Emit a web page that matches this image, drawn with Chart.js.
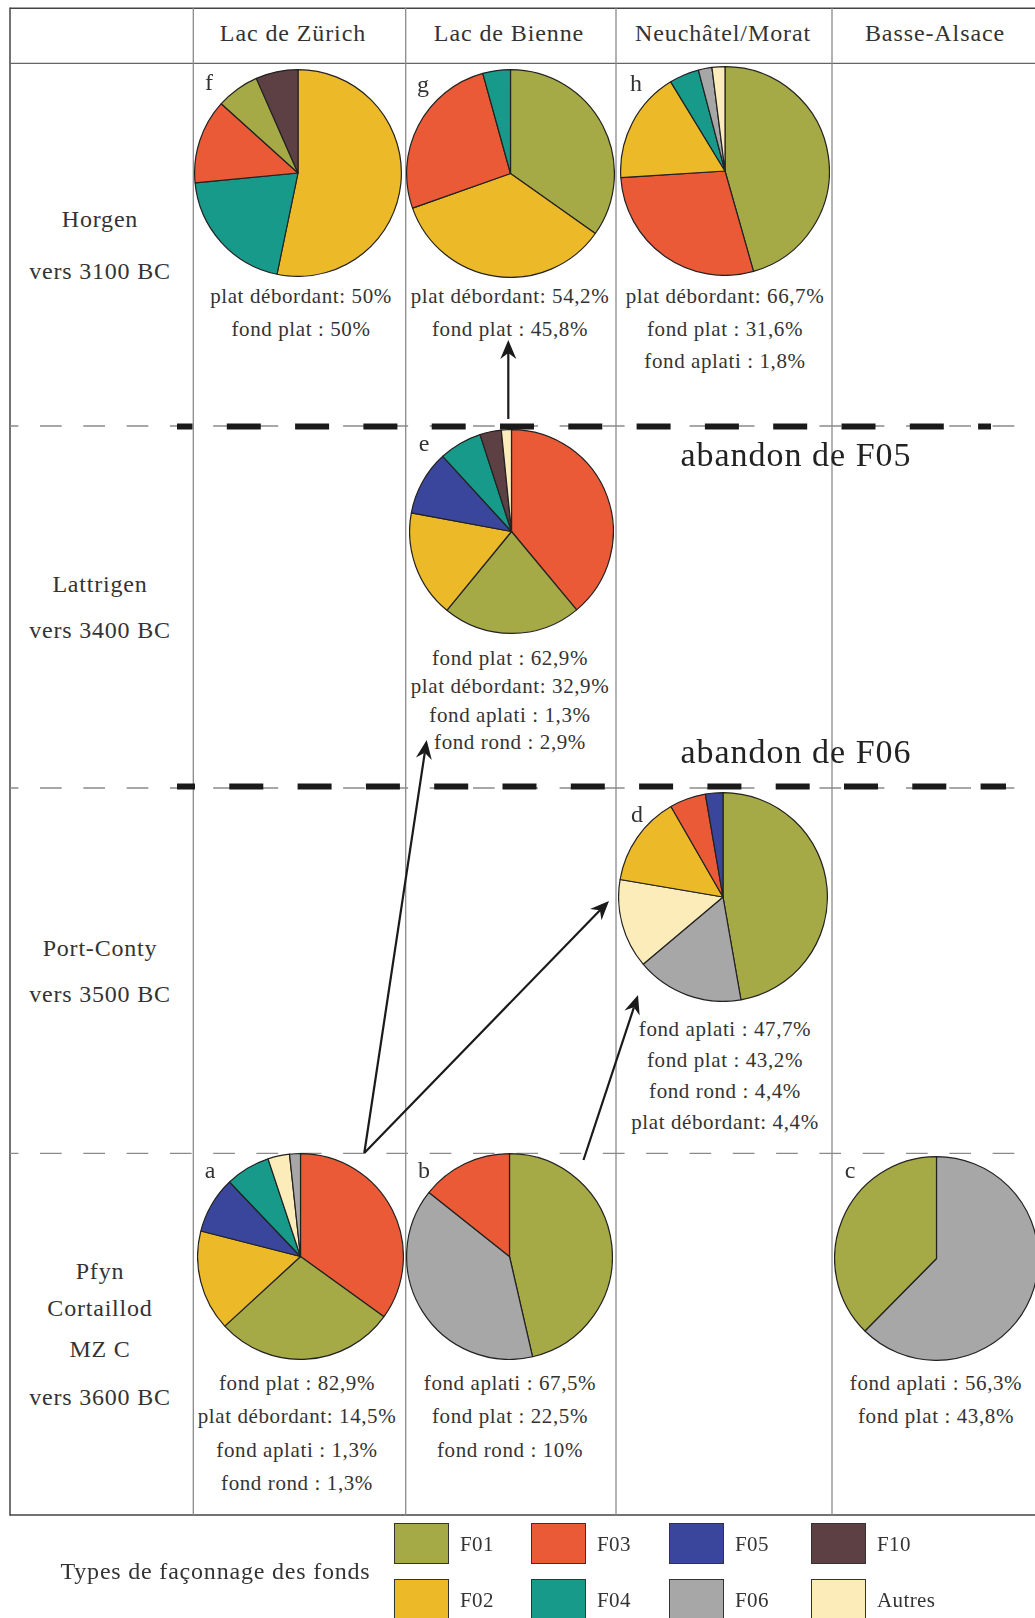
<html lang="fr">
<head>
    <meta charset="UTF-8">
    <title>Types de façonnage des fonds</title>
    <script src="https://cdn.jsdelivr.net/npm/chart.js"></script>
    <style>
        body { margin: 0; background: #fff; }
        #page { position: relative; width: 1035px; height: 1618px; overflow: hidden; background: #fff;
                font-family: "Liberation Serif", "DejaVu Serif", serif; color: #333; }
        .t { position: absolute; white-space: nowrap; line-height: 1; transform: translate(-50%, -50%); }
        .head { font-size: 24px; letter-spacing: 0.9px; }
        .row { font-size: 24px; letter-spacing: 0.8px; }
        .pct { font-size: 21px; letter-spacing: 0.6px; }
        .tag { font-size: 24px; }
        .big { font-size: 34px; letter-spacing: 1px; color: #222; }
        .leg { font-size: 21px; letter-spacing: 0.4px; transform: translate(0, -50%); }
        .box { position: absolute; width: 55px; height: 41px; box-sizing: border-box; border: 1px solid #333; }
        svg { position: absolute; left: 0; top: 0; }
        canvas { position: absolute; }
    </style>
</head>
<body>
<div id="page">
    <svg id="grid" width="1035" height="1618"></svg>
</div>

<script>
    // Categories (types de façonnage) and their colours
    const types = ['F01', 'F02', 'F03', 'F04', 'F05', 'F06', 'F10', 'Autres'];
    const typeColors = ['#a5a946', '#ecba28', '#ea5a37', '#179a8a', '#3a469c', '#a7a7a7', '#5d4043', '#fbecb9'];

    // Column and row headings
    const columns = ['Lac de Zürich', 'Lac de Bienne', 'Neuchâtel/Morat', 'Basse-Alsace'];
    const periods = [['Horgen', 'vers 3100 BC'], ['Lattrigen', 'vers 3400 BC'],
                     ['Port-Conty', 'vers 3500 BC'], ['Pfyn', 'Cortaillod', 'MZ C', 'vers 3600 BC']];

    // Pie slices, clockwise from the top (% of each assemblage)
    const fTypes = ['F02', 'F04', 'F03', 'F01', 'F10'];
    const fShares = [53.2, 20.2, 13.2, 6.7, 6.6];
    const gTypes = ['F01', 'F02', 'F03', 'F04'];
    const gShares = [34.8, 34.8, 26.1, 4.3];
    const hTypes = ['F01', 'F03', 'F02', 'F04', 'F06', 'Autres'];
    const hShares = [45.6, 28.4, 17.3, 4.6, 2.1, 2.0];
    const eTypes = ['F03', 'F01', 'F02', 'F05', 'F04', 'F10', 'Autres'];
    const eShares = [39.0, 22.0, 17.0, 10.3, 6.8, 3.4, 1.6];
    const dTypes = ['F01', 'F06', 'Autres', 'F02', 'F03', 'F05'];
    const dShares = [47.2, 16.6, 13.8, 14.0, 5.6, 2.7];
    const aTypes = ['F03', 'F01', 'F02', 'F05', 'F04', 'Autres', 'F06'];
    const aShares = [34.9, 28.2, 15.8, 8.9, 7.0, 3.4, 1.7];
    const bTypes = ['F01', 'F06', 'F03'];
    const bShares = [46.4, 39.3, 14.3];
    const cTypes = ['F06', 'F01'];
    const cShares = [62.4, 37.6];

    // Base shapes written below each pie
    const fNotes = ['plat débordant: 50%', 'fond plat : 50%'];
    const gNotes = ['plat débordant: 54,2%', 'fond plat : 45,8%'];
    const hNotes = ['plat débordant: 66,7%', 'fond plat : 31,6%', 'fond aplati : 1,8%'];
    const eNotes = ['fond plat : 62,9%', 'plat débordant: 32,9%', 'fond aplati : 1,3%', 'fond rond : 2,9%'];
    const dNotes = ['fond aplati : 47,7%', 'fond plat : 43,2%', 'fond rond : 4,4%', 'plat débordant: 4,4%'];
    const aNotes = ['fond plat : 82,9%', 'plat débordant: 14,5%', 'fond aplati : 1,3%', 'fond rond : 1,3%'];
    const bNotes = ['fond aplati : 67,5%', 'fond plat : 22,5%', 'fond rond : 10%'];
    const cNotes = ['fond aplati : 56,3%', 'fond plat : 43,8%'];

    const page = document.getElementById('page');
    const grid = document.getElementById('grid');
    const NS = 'http://www.w3.org/2000/svg';

    function svgEl(parent, tag, attrs) {
        const el = document.createElementNS(NS, tag);
        for (const k in attrs) el.setAttribute(k, attrs[k]);
        parent.appendChild(el);
        return el;
    }
    function text(str, x, y, cls) {
        const d = document.createElement('div');
        d.className = 't ' + cls;
        d.style.left = x + 'px';
        d.style.top = y + 'px';
        d.textContent = str;
        page.appendChild(d);
        return d;
    }

    // ---- table frame ----
    const colX = [193.3, 405.7, 616, 832];
    const rowY = [426, 788, 1153.3];
    svgEl(grid, 'line', { x1: 10, y1: 8.3, x2: 1035, y2: 8.3, stroke: '#444', 'stroke-width': 1.5 });
    svgEl(grid, 'line', { x1: 10, y1: 7.5, x2: 10, y2: 1515.8, stroke: '#444', 'stroke-width': 1.5 });
    svgEl(grid, 'line', { x1: 10, y1: 1515, x2: 1035, y2: 1515, stroke: '#444', 'stroke-width': 1.5 });
    svgEl(grid, 'line', { x1: 10, y1: 63.3, x2: 1035, y2: 63.3, stroke: '#666', 'stroke-width': 1.3 });
    colX.forEach(x => svgEl(grid, 'line', { x1: x, y1: 8, x2: x, y2: 1515, stroke: '#8a8a8a', 'stroke-width': 1.3 }));
    rowY.forEach(y => svgEl(grid, 'line', { x1: 10, y1: y, x2: 1035, y2: y, stroke: '#8a8a8a', 'stroke-width': 1.3,
        'stroke-dasharray': '21.7 21.6', 'stroke-dashoffset': 13.3 }));

    // ---- headings ----
    const colCenters = [293, 509, 723, 935];
    columns.forEach((c, i) => text(c, colCenters[i], 33, 'head'));
    const periodY = [[219, 271], [584, 630], [948, 994], [1271, 1308, 1349, 1397]];
    periods.forEach((lines, i) => lines.forEach((s, j) => text(s, 100, periodY[i][j], 'row')));

    // ---- pies ----
    const pieLayout = {
        f: { cx: 298, cy: 173, r: 103, tag: [209, 82], tx: 301, ty: [296, 329] },
        g: { cx: 510.7, cy: 173.3, r: 103.5, tag: [423, 84], tx: 510, ty: [296, 329] },
        h: { cx: 725.3, cy: 171, r: 104, tag: [636, 83], tx: 725, ty: [296, 329, 361] },
        e: { cx: 511.8, cy: 531.3, r: 101.5, tag: [424, 443], tx: 510, ty: [658, 686, 715, 742] },
        d: { cx: 723.3, cy: 897.3, r: 104, tag: [637, 814], tx: 725, ty: [1029, 1060, 1091, 1122] },
        a: { cx: 300.3, cy: 1256.7, r: 102.5, tag: [210, 1170], tx: 297, ty: [1383, 1416, 1450, 1483] },
        b: { cx: 509, cy: 1256.7, r: 102.5, tag: [424, 1170], tx: 510, ty: [1383, 1416, 1450] },
        c: { cx: 936.7, cy: 1258, r: 101.5, tag: [850, 1170], tx: 936, ty: [1383, 1416] }
    };

    function drawPie(id, labels, values, notes) {
        const L = pieLayout[id];
        const size = Math.round(2 * L.r + 2);
        const cv = document.createElement('canvas');
        cv.width = size;
        cv.height = size;
        cv.style.left = (L.cx - size / 2) + 'px';
        cv.style.top = (L.cy - size / 2) + 'px';
        cv.style.width = size + 'px';
        cv.style.height = size + 'px';
        page.appendChild(cv);
        new Chart(cv, {
            type: 'pie',
            data: {
                labels: labels,
                datasets: [{
                    data: values,
                    backgroundColor: labels.map(t => typeColors[types.indexOf(t)]),
                    borderColor: '#222',
                    borderWidth: 1.2
                }]
            },
            options: {
                responsive: false,
                animation: false,
                events: [],
                layout: { padding: 0 },
                plugins: { legend: { display: false }, tooltip: { enabled: false } }
            }
        });
        text(id, L.tag[0], L.tag[1], 'tag');
        notes.forEach((s, i) => text(s, L.tx, L.ty[i], 'pct'));
    }

    drawPie('f', fTypes, fShares, fNotes);
    drawPie('g', gTypes, gShares, gNotes);
    drawPie('h', hTypes, hShares, hNotes);
    drawPie('e', eTypes, eShares, eNotes);
    drawPie('d', dTypes, dShares, dNotes);
    drawPie('a', aTypes, aShares, aNotes);
    drawPie('b', bTypes, bShares, bNotes);
    drawPie('c', cTypes, cShares, cNotes);

    // ---- annotations on top: thick dashes + arrows ----
    const over = svgEl(page, 'svg', { width: 1035, height: 1618 });
    svgEl(over, 'line', { x1: 177, y1: 426.5, x2: 991, y2: 426.5, stroke: '#1a1a1a', 'stroke-width': 6,
        'stroke-dasharray': '34 34.3', 'stroke-dashoffset': 18.5 });
    svgEl(over, 'line', { x1: 177, y1: 786.5, x2: 1006, y2: 786.5, stroke: '#1a1a1a', 'stroke-width': 6,
        'stroke-dasharray': '34 34.3', 'stroke-dashoffset': 16 });

    function arrow(x1, y1, x2, y2) {
        const dx = x2 - x1, dy = y2 - y1, len = Math.hypot(dx, dy);
        const ux = dx / len, uy = dy / len, px = -uy, py = ux;
        const hl = 19, hw = 8, notch = 6;
        svgEl(over, 'line', { x1: x1, y1: y1, x2: x2 - ux * (hl - notch), y2: y2 - uy * (hl - notch),
            stroke: '#1a1a1a', 'stroke-width': 2.2 });
        const pts = [
            [x2, y2],
            [x2 - ux * hl + px * hw, y2 - uy * hl + py * hw],
            [x2 - ux * (hl - notch), y2 - uy * (hl - notch)],
            [x2 - ux * hl - px * hw, y2 - uy * hl - py * hw]
        ];
        svgEl(over, 'polygon', { points: pts.map(p => p.join(',')).join(' '), fill: '#1a1a1a' });
    }
    arrow(508.3, 419, 508.3, 340);
    arrow(364.3, 1153, 426.7, 740);
    arrow(364.3, 1153, 609, 901);
    arrow(583.5, 1160, 638, 995);

    text('abandon de F05', 796, 455, 'big');
    text('abandon de F06', 796, 752, 'big');

    // ---- legend ----
    const legendOrder = [['F01', 'F03', 'F05', 'F10'], ['F02', 'F04', 'F06', 'Autres']];
    const legX = [394, 531, 669, 811];
    const legY = [1523, 1579];
    text('Types de façonnage des fonds', 215.5, 1571, 'row');
    legendOrder.forEach((row, r) => row.forEach((t, c) => {
        const b = document.createElement('div');
        b.className = 'box';
        b.style.left = legX[c] + 'px';
        b.style.top = legY[r] + 'px';
        b.style.background = typeColors[types.indexOf(t)];
        page.appendChild(b);
        text(t, legX[c] + 66, legY[r] + 21, 'leg');
    }));
</script>
</body>
</html>
